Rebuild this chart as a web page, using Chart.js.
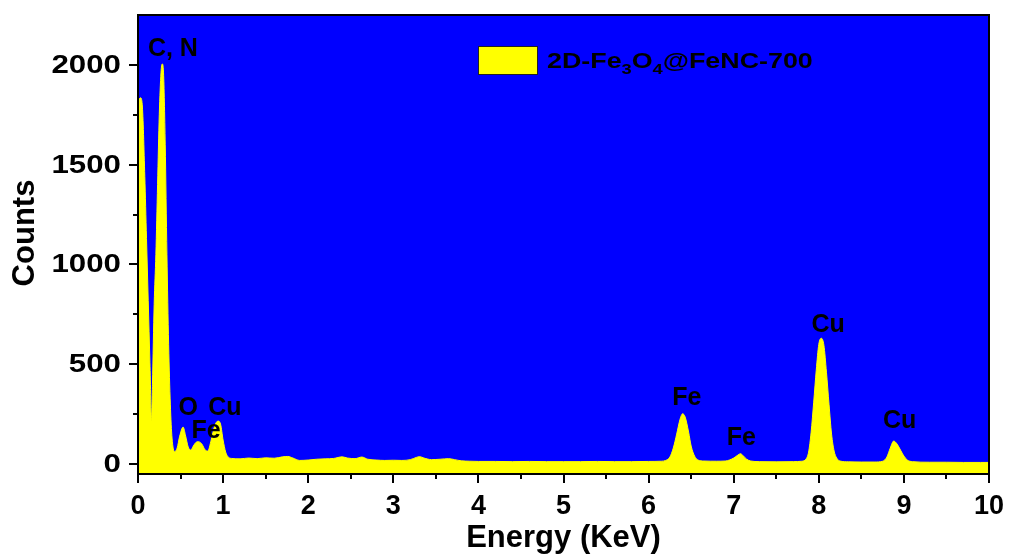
<!DOCTYPE html>
<html>
<head>
<meta charset="utf-8">
<script src="https://cdn.jsdelivr.net/npm/chart.js@4/dist/chart.umd.min.js"></script>
<style>
  html, body { margin: 0; padding: 0; background: #ffffff; }
  #wrap { width: 1010px; height: 557px; }
</style>
</head>
<body>
<div id="wrap"><canvas id="eds" width="1010" height="557"></canvas></div>
<script>
// EDS spectrum of 2D-Fe3O4@FeNC-700: photon energy (keV) and detector counts
const energy = [
  0.00, 0.03, 0.05, 0.08, 0.10, 0.12, 0.14, 0.16, 0.17, 0.19,
  0.21, 0.23, 0.25, 0.27, 0.285, 0.30, 0.32, 0.34, 0.36, 0.38,
  0.40, 0.43, 0.46, 0.49, 0.53, 0.56, 0.59, 0.62, 0.65, 0.68,
  0.71, 0.75, 0.79, 0.82, 0.86, 0.90, 0.94, 0.97, 1.00, 1.03,
  1.06, 1.10, 1.20, 1.30, 1.40, 1.50, 1.60, 1.70, 1.76, 1.82,
  1.90, 2.00, 2.10, 2.20, 2.30, 2.40, 2.46, 2.55, 2.63, 2.70,
  2.80, 2.90, 3.00, 3.10, 3.20, 3.27, 3.31, 3.36, 3.45, 3.55,
  3.65, 3.72, 3.80, 3.90, 4.00, 4.20, 4.40, 4.60, 4.80, 5.00,
  5.20, 5.40, 5.60, 5.80, 6.00, 6.15, 6.20, 6.25, 6.29, 6.33,
  6.37, 6.40, 6.43, 6.47, 6.50, 6.54, 6.58, 6.65, 6.80, 6.90,
  6.95, 7.00, 7.05, 7.08, 7.11, 7.15, 7.20, 7.30, 7.50, 7.70,
  7.80, 7.85, 7.88, 7.91, 7.94, 7.97, 8.00, 8.03, 8.06, 8.09,
  8.12, 8.15, 8.18, 8.21, 8.25, 8.35, 8.50, 8.65, 8.75, 8.80,
  8.84, 8.88, 8.92, 8.96, 9.00, 9.04, 9.10, 9.30, 9.50, 9.70,
  9.90, 10.00
];
const counts = [
  1820, 1835, 1800, 1440, 1130, 820, 510, 215, 400, 800,
  1050, 1400, 1750, 1960, 2005, 1960, 1600, 1050, 600, 300,
  130, 62, 80, 140, 185, 140, 85, 70, 90, 108,
  112, 100, 70, 65, 120, 190, 215, 200, 120, 60,
  35, 28, 26, 30, 27, 31, 29, 36, 38, 30,
  18, 20, 24, 26, 28, 36, 30, 27, 35, 24,
  20, 18, 19, 18, 22, 33, 37, 30, 22, 24,
  27, 22, 16, 14, 13, 13, 12, 13, 12, 12,
  12, 13, 12, 12, 13, 14, 18, 35, 80, 150,
  225, 252, 235, 160, 90, 40, 20, 15, 14, 15,
  20, 30, 45, 52, 42, 25, 15, 12, 11, 12,
  14, 25, 60, 160, 310, 470, 600, 630, 595, 460,
  300, 150, 65, 30, 15, 11, 10, 10, 14, 35,
  80, 115, 100, 70, 40, 20, 12, 9, 9, 8,
  8, 8
];

// axis ticks
const xTicks = [0, 1, 2, 3, 4, 5, 6, 7, 8, 9, 10];
const xMinorTicks = [0.5, 1.5, 2.5, 3.5, 4.5, 5.5, 6.5, 7.5, 8.5, 9.5];
const yTicks = [0, 500, 1000, 1500, 2000];
const yMinorTicks = [250, 750, 1250, 1750];

// element assignments of the peaks (label anchor in keV / counts)
const peakNames = ['C, N', 'O', 'Cu', 'Fe', 'Fe', 'Fe', 'Cu', 'Cu'];
const peakLabelE = [0.41, 0.59, 1.02, 0.80, 6.45, 7.09, 8.11, 8.95];
const peakLabelC = [2080, 282, 282, 165, 332, 132, 697, 216];

const seriesName = ['2D-Fe', '3', 'O', '4', '@FeNC-700']; // alternating normal / subscript parts

const FONT = '"Liberation Sans", Arial, Helvetica, sans-serif';

const panelPlugin = {
  id: 'panel',
  beforeDraw(chart) {
    const { ctx, chartArea: a } = chart;
    ctx.save();
    ctx.fillStyle = '#ffffff';
    ctx.fillRect(0, 0, chart.width, chart.height);
    ctx.fillStyle = '#0000ff';
    ctx.fillRect(a.left, a.top, a.right - a.left, a.bottom - a.top);
    ctx.restore();
  },
  afterDraw(chart) {
    const { ctx, chartArea: a, scales } = chart;
    ctx.save();
    // frame
    ctx.strokeStyle = '#000000';
    ctx.lineWidth = 2;
    ctx.strokeRect(a.left, a.top, a.right - a.left, a.bottom - a.top);
    // outward ticks on the bottom and left axes
    ctx.beginPath();
    xTicks.forEach(v => {
      const x = Math.round(scales.x.getPixelForValue(v));
      ctx.moveTo(x, a.bottom); ctx.lineTo(x, a.bottom + 9);
    });
    xMinorTicks.forEach(v => {
      const x = Math.round(scales.x.getPixelForValue(v));
      ctx.moveTo(x, a.bottom); ctx.lineTo(x, a.bottom + 5);
    });
    yTicks.forEach(v => {
      const y = Math.round(scales.y.getPixelForValue(v));
      ctx.moveTo(a.left, y); ctx.lineTo(a.left - 9, y);
    });
    yMinorTicks.forEach(v => {
      const y = Math.round(scales.y.getPixelForValue(v));
      ctx.moveTo(a.left, y); ctx.lineTo(a.left - 5, y);
    });
    ctx.stroke();

    ctx.fillStyle = '#000000';

    // y tick labels, drawn slightly widened
    ctx.font = 'bold 25px ' + FONT;
    ctx.textAlign = 'right';
    ctx.textBaseline = 'middle';
    yTicks.forEach(v => {
      const y = scales.y.getPixelForValue(v);
      ctx.save();
      ctx.translate(121, y + 1);
      ctx.scale(1.25, 1);
      ctx.fillText(String(v), 0, 0);
      ctx.restore();
    });

    // y axis title
    ctx.save();
    ctx.translate(25, 233);
    ctx.rotate(-Math.PI / 2);
    ctx.textAlign = 'center';
    ctx.textBaseline = 'middle';
    ctx.font = 'bold 31px ' + FONT;
    ctx.fillText('Counts', 0, 0);
    ctx.restore();

    // peak labels
    ctx.font = 'bold 25px ' + FONT;
    ctx.textAlign = 'center';
    ctx.textBaseline = 'middle';
    peakNames.forEach((name, i) => {
      ctx.fillText(name, scales.x.getPixelForValue(peakLabelE[i]), scales.y.getPixelForValue(peakLabelC[i]));
    });

    // legend
    const bx = 478, by = 46, bw = 60, bh = 29;
    ctx.fillStyle = '#ffff00';
    ctx.fillRect(bx, by, bw, bh);
    ctx.strokeStyle = '#222222';
    ctx.lineWidth = 1;
    ctx.strokeRect(bx + 0.5, by + 0.5, bw - 1, bh - 1);

    ctx.translate(547, 68);
    ctx.scale(1.22, 1);
    ctx.textAlign = 'left';
    ctx.textBaseline = 'alphabetic';
    ctx.fillStyle = '#000000';
    let x = 0;
    seriesName.forEach((part, i) => {
      const sub = i % 2 === 1;
      ctx.font = (sub ? 'bold 15px ' : 'bold 22px ') + FONT;
      ctx.fillText(part, x, sub ? 6 : 0);
      x += ctx.measureText(part).width;
    });
    ctx.restore();
  }
};

new Chart(document.getElementById('eds'), {
  type: 'line',
  data: {
    datasets: [{
      label: '2D-Fe3O4@FeNC-700',
      data: energy.map((e, i) => ({ x: e, y: counts[i] })),
      fill: 'start',
      backgroundColor: '#ffff00',
      borderColor: '#ffff00',
      borderWidth: 1,
      pointRadius: 0,
      cubicInterpolationMode: 'monotone'
    }]
  },
  options: {
    responsive: false,
    animation: false,
    devicePixelRatio: 1,
    layout: { padding: { top: 15, right: 21, left: 0, bottom: 0 } },
    plugins: { legend: { display: false }, tooltip: { enabled: false } },
    scales: {
      x: {
        type: 'linear',
        min: 0,
        max: 10,
        afterFit(scale) {
          scale.height = 83;
          scale.paddingLeft = 0;
          scale.paddingRight = 0;
        },
        afterBuildTicks(scale) { scale.ticks = xTicks.map(v => ({ value: v })); },
        grid: { display: false, drawTicks: false },
        border: { display: false },
        ticks: {
          padding: 16,
          color: '#000000',
          maxRotation: 0,
          callback: v => String(v),
          font: { family: FONT, size: 27, weight: 'bold' }
        },
        title: {
          display: true,
          text: 'Energy (KeV)',
          color: '#000000',
          padding: 0,
          font: { family: FONT, size: 31, weight: 'bold', lineHeight: 1.2 }
        }
      },
      y: {
        type: 'linear',
        min: -50,
        max: 2250,
        afterFit(scale) {
          scale.width = 138;
          scale.paddingTop = 0;
          scale.paddingBottom = 0;
        },
        afterBuildTicks(scale) { scale.ticks = yTicks.map(v => ({ value: v })); },
        grid: { display: false, drawTicks: false },
        border: { display: false },
        ticks: { display: false }
      }
    }
  },
  plugins: [panelPlugin]
});
</script>
</body>
</html>
